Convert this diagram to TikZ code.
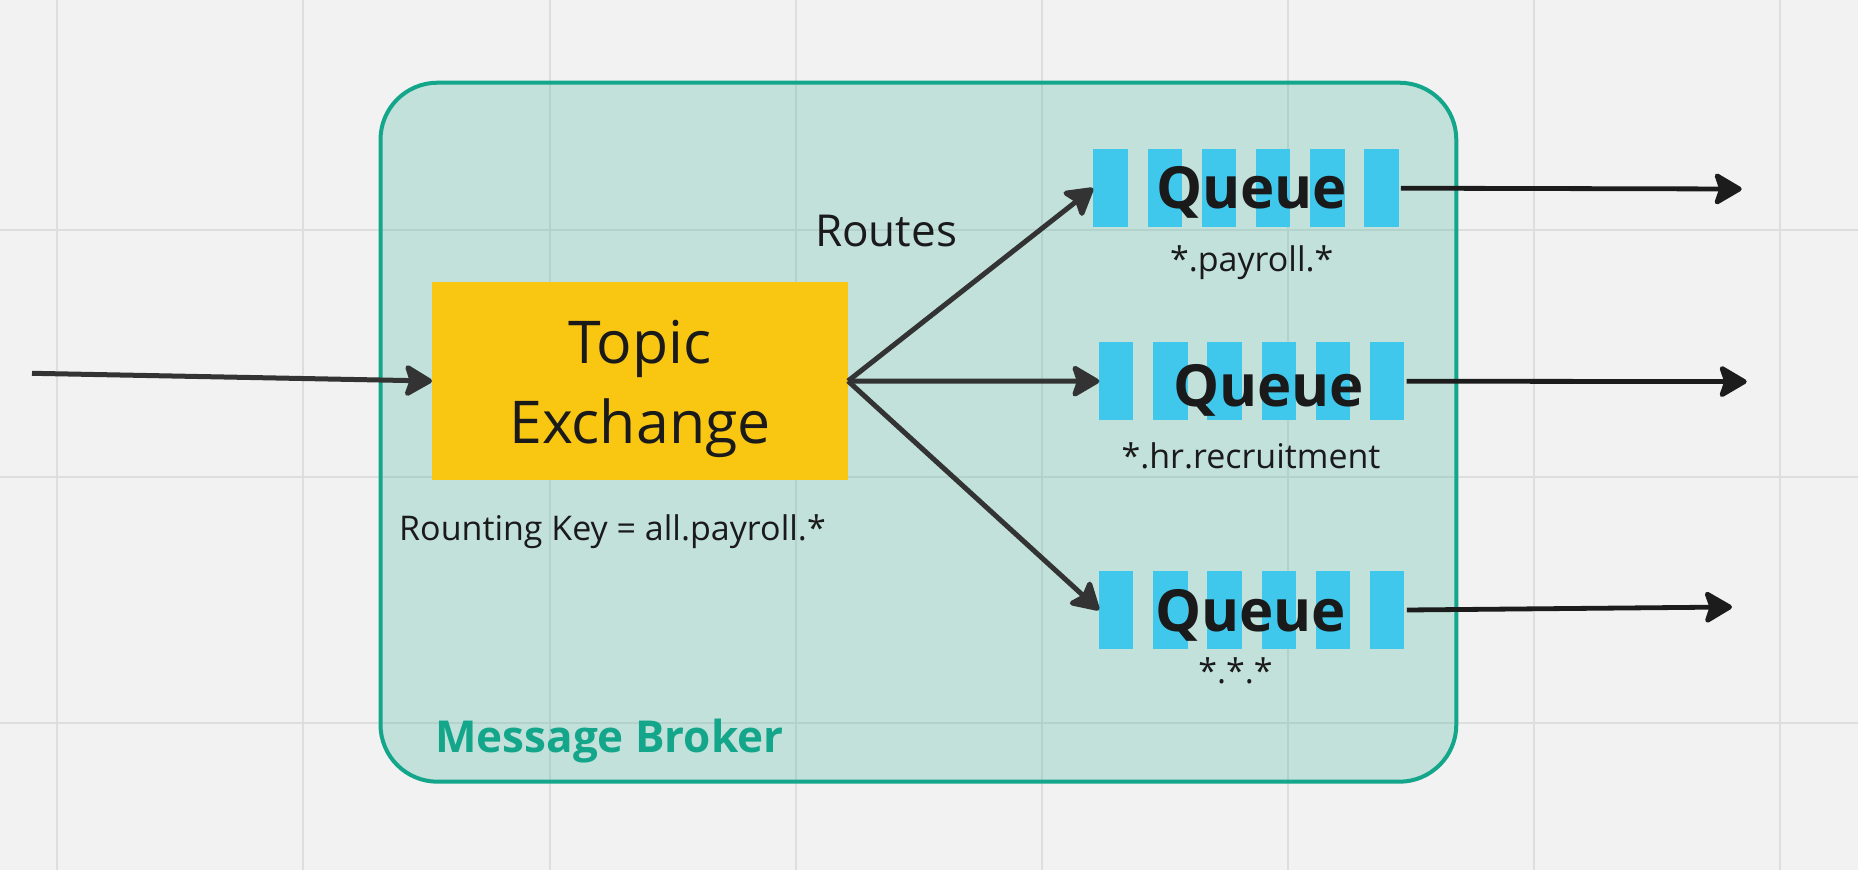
\documentclass[tikz,border=0pt]{standalone}
\usepackage{fontspec}
\setmainfont{Open Sans}
\usetikzlibrary{arrows.meta}
\definecolor{bgc}{RGB}{242,242,242}
\definecolor{gridc}{RGB}{222,222,222}
\definecolor{brokerc}{RGB}{19,166,138}
\definecolor{qblue}{RGB}{64,200,236}
\definecolor{exy}{RGB}{249,199,18}
\definecolor{arrc}{RGB}{51,51,51}
\definecolor{outc}{RGB}{28,28,28}
\definecolor{txtc}{RGB}{26,26,26}
\tikzset{
  gridline/.style={gridc, line width=2pt},
  broker/.style={draw=brokerc, line width=4pt, fill=brokerc, fill opacity=0.21,
    rounded corners=57pt, minimum width=1075.8pt, minimum height=699pt, inner sep=0pt},
  exbox/.style={fill=exy, minimum width=415.6pt, minimum height=198pt, inner sep=0pt},
  qbox/.style={minimum width=305.4pt, minimum height=78.3pt, inner sep=0pt},
  bigtxt/.style={anchor=base, inner sep=0pt, text=txtc, font=\fontsize{59}{80}\selectfont},
  qtxt/.style={anchor=base, inner sep=0pt, text=txtc, font=\fontsize{58}{70}\selectfont\bfseries},
  smalltxt/.style={inner sep=0pt, text=txtc, font=\fontsize{34}{41}\selectfont},
  midtxt/.style={inner sep=0pt, text=txtc, font=\fontsize{44}{53}\selectfont},
  arr/.style={draw=arrc, line width=5pt, -{Stealth[length=31pt,width=36pt,inset=6pt,round]}},
  outarr/.style={draw=outc, line width=4.8pt, -{Stealth[length=31pt,width=36pt,inset=6pt,round]}},
}
\newcommand\qbars[2]{\foreach \i in {0,...,5}{\fill[qblue] (#1+\i*54.2,#2-39.15) rectangle ++(34.4,78.3);}}
\begin{document}
\begin{tikzpicture}[x=1pt,y=-1pt]
\fill[bgc] (0,0) rectangle (1858,870);
\useasboundingbox (0,0) rectangle (1858,870);
% grid
\foreach \gx in {57.2,303.35,549.5,795.65,1041.8,1287.95,1534.1,1780.25}
  \draw[gridline] (\gx,0) -- (\gx,870);
\foreach \gy in {230.3,476.5,722.6}
  \draw[gridline] (0,\gy) -- (1858,\gy);
% broker
\node[broker] (mb) at (918.4,432.2) {};
\node[anchor=base west, inner sep=0pt, text=brokerc, font=\fontsize{44}{53}\selectfont\bfseries] (mbl) at (435,752.3) {Message Broker};
% exchange
\node[exbox] (tx) at (640,381) {};
\node[bigtxt] (tx1) at (640,363.3) {Topic};
\node[bigtxt] (tx2) at (640,443.3) {Exchange};
\node[smalltxt, anchor=base west] (rk) at (399,540.7) {Rounting Key = all.payroll.*};
\node[midtxt, anchor=base west] (rt) at (815,246) {Routes};
% queues
\node[qbox] (q1) at (1246,188.2) {};
\node[qbox] (q2) at (1252.2,381.2) {};
\node[qbox] (q3) at (1251.9,610) {};
\qbars{1093.3}{188.2}
\qbars{1099}{381.2}
\qbars{1099}{610}
\node[qtxt] (q1t) at (1251.7,208) {Queue};
\node[qtxt] (q2t) at (1268.7,406) {Queue};
\node[qtxt] (q3t) at (1250.5,631) {Queue};
\node[smalltxt, anchor=base] (k1) at (1251.7,271.7) {*.payroll.*};
\node[smalltxt, anchor=base] (k2) at (1251,468.3) {*.hr.recruitment};
\node[smalltxt, anchor=base] (k3) at (1235.5,683) {*.*.*};
% connectors
\coordinate (in) at (32,373.3);
\coordinate (o1) at (1741.7,189);
\coordinate (o2) at (1746.7,381.6);
\coordinate (o3) at (1732,607);
\draw[arr] (in) -- (tx.west);
\draw[arr] (tx.east) -- (q1.west);
\draw[arr] (tx.east) -- (q2.west);
\draw[arr] (tx.east) -- (q3.west);
\draw[outarr] ([xshift=2pt]q1.east) -- (o1);
\draw[outarr] ([xshift=1.5pt]q2.east) -- (o2);
\draw[outarr] ([xshift=2pt]q3.east) -- (o3);
\end{tikzpicture}
\end{document}
